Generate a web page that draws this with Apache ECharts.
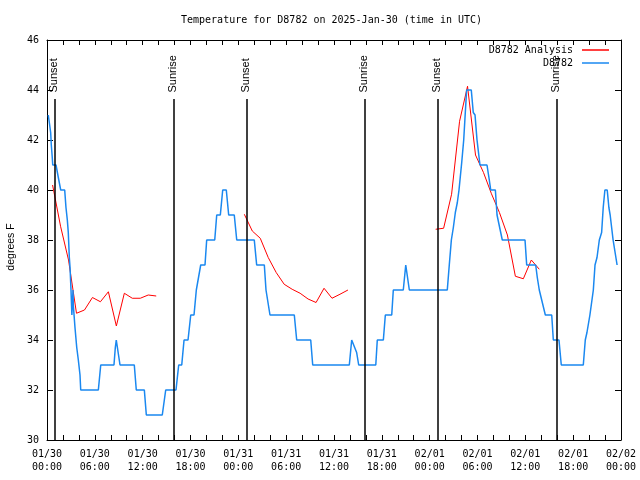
<!DOCTYPE html>
<html><head><meta charset="utf-8">
<script src="https://cdn.jsdelivr.net/npm/echarts@6/dist/echarts.min.js"></script>
<style>html,body{margin:0;padding:0;background:#fff}#c{width:640px;height:480px}</style>
</head><body><div id="c"></div>
<script>
// hours since 2025-01-30 00:00 UTC
const tickLabels = ["01/30\n00:00","01/30\n06:00","01/30\n12:00","01/30\n18:00","01/31\n00:00","01/31\n06:00","01/31\n12:00","01/31\n18:00","02/01\n00:00","02/01\n06:00","02/01\n12:00","02/01\n18:00","02/02\n00:00"];
const sunTimes = [0.92, 15.84, 25.0, 39.8, 48.96, 63.9];
const sunNames = ["Sunset","Sunrise","Sunset","Sunrise","Sunset","Sunrise"];

const obsHours = [0.16,0.29,0.46,0.54,0.66,0.72,1.13,1.42,1.72,2.22,2.38,2.55,2.67,2.80,2.89,3.01,3.12,3.26,3.30,3.51,3.73,3.93,4.14,4.23,6.44,6.74,8.40,8.57,8.69,8.94,9.16,10.95,11.20,12.21,12.46,14.46,14.89,16.18,16.52,16.90,17.19,17.69,18.03,18.44,18.73,18.94,19.28,19.82,20.03,21.04,21.29,21.74,22.04,22.49,22.79,23.49,23.80,26.00,26.30,27.26,27.47,27.72,27.97,31.02,31.32,33.08,33.33,37.92,38.22,38.42,38.84,39.10,41.24,41.43,42.19,42.44,43.24,43.44,44.69,45.00,45.20,45.45,50.21,50.46,50.72,50.97,51.22,51.47,51.68,52.02,52.27,52.47,52.64,53.22,53.47,53.69,53.94,54.31,55.19,55.48,55.66,56.24,56.45,56.66,57.11,59.96,60.17,61.30,61.50,61.75,62.00,62.51,63.31,63.51,64.22,64.51,67.27,67.52,67.73,68.10,68.53,68.74,68.99,69.28,69.57,69.77,69.98,70.27,70.48,70.64,71.01,71.22,71.51];
const obsValues = [43,42.7,42.3,41.8,41.3,41,41,40.5,40,40,39.3,38.8,38.3,37.3,36.9,36,35,36,35.4,34.5,33.7,33.2,32.6,32,32,33,33,33.7,34,34,33,33,32,32,31,31,32,32,33,33,34,34,35,35,36,36,37,37,38,38,39,39,40,40,39,39,38,38,37,37,36,36,35,35,34,34,33,33,34,34,33.5,33,33,34,34,35,35,36,36,37,37,36,36,37,38,38.5,39.1,39.5,40,41.1,42,43.1,44,44,43.1,43,42,41,41,40.4,40,40,39,39,38,38,37,37,36.5,36,36,35,35,34,34,33,33,34,34.3,35,36,37,37.3,38,38.3,39.3,40,40,39.3,39,38,38,37];

const anaHours1 = [0.7,1.7,2.7,3.7,4.7,5.7,6.7,7.7,8.7,9.7,10.7,11.7,12.7,13.7];
const anaValues1 = [40.2,38.55,37.2,35.07,35.2,35.7,35.53,35.93,34.56,35.87,35.67,35.67,35.8,35.76];
const anaHours2 = [24.75,25.75,26.75,27.75,28.75,29.75,30.75,31.75,32.75,33.75,34.75,35.75,36.75,37.75];
const anaValues2 = [39.03,38.36,38.07,37.3,36.7,36.23,36.03,35.87,35.64,35.5,36.07,35.67,35.83,36.0];
const anaHours3 = [48.75,49.75,50.75,51.75,52.75,53.75,54.75,55.75,56.75,57.75,58.75,59.75,60.75,61.75];
const anaValues3 = [38.43,38.47,39.83,42.75,44.15,41.4,40.7,39.85,39.1,38.2,36.55,36.45,37.2,36.83];

const MONO = "'DejaVu Sans Mono', monospace";
const SANS = "'Liberation Sans', Arial, sans-serif";

const obsData = obsHours.map((h,i)=>[h, obsValues[i]]);
const anaData = [];
[[anaHours1,anaValues1],[anaHours2,anaValues2],[anaHours3,anaValues3]].forEach(([hs,vs],k)=>{
  if (k>0) anaData.push([hs[0]-0.5, null]);
  hs.forEach((h,i)=>anaData.push([h, vs[i]]));
});

const chart = echarts.init(document.getElementById('c'), null, {renderer:'canvas'});
const xCommon = {type:'value', min:0, max:72, interval:6,
  axisLine:{show:true, onZero:false, lineStyle:{color:'#000', width:1}},
  axisTick:{show:true, inside:true, length:5, lineStyle:{color:'#000'}},
  minorTick:{show:true, splitNumber:3, length:5, lineStyle:{color:'#000'}},
  splitLine:{show:false}, minorSplitLine:{show:false}};
const yCommon = {type:'value', min:30, max:46, interval:2,
  axisLine:{show:true, onZero:false, lineStyle:{color:'#000', width:1}},
  axisTick:{show:true, inside:true, length:6, lineStyle:{color:'#000'}},
  splitLine:{show:false}};

chart.setOption({
  animation:false,
  backgroundColor:'#fff',
  title:{text:'Temperature for D8782 on 2025-Jan-30 (time in UTC)', left:181, top:15, padding:0,
    textStyle:{fontFamily:MONO, fontSize:10, fontWeight:'normal', color:'#000'}},
  grid:{left:47, right:19, top:40, bottom:40, containLabel:false},
  legend:[
    {data:['D8782 Analysis'], right:31, top:45, padding:0, align:'right', icon:'rect', itemWidth:27, itemHeight:1.5,
     textStyle:{fontFamily:MONO, fontSize:10, color:'#000', padding:[0,4,0,0]}},
    {data:['D8782'], right:31, top:58, padding:0, align:'right', icon:'rect', itemWidth:27, itemHeight:1.5,
     textStyle:{fontFamily:MONO, fontSize:10, color:'#000', padding:[0,4,0,0]}}
  ],
  xAxis:[
    Object.assign({}, xCommon, {position:'bottom',
      axisLabel:{show:true, margin:8, color:'#000', fontFamily:MONO, fontSize:10, lineHeight:13,
        formatter:(v)=>tickLabels[Math.round(v/6)]}}),
    Object.assign({}, xCommon, {position:'top', axisLabel:{show:false}})
  ],
  yAxis:[
    Object.assign({}, yCommon, {position:'left',
      axisLabel:{show:true, margin:8, color:'#000', fontFamily:MONO, fontSize:10}}),
    Object.assign({}, yCommon, {position:'right', axisLabel:{show:false}})
  ],
  graphic:[{type:'text', x:11, y:247, rotation:Math.PI/2,
    style:{text:'degrees F', fill:'#000', font:"10.5px 'Liberation Sans', Arial, sans-serif", align:'center', verticalAlign:'middle'}}],
  series:[
    {name:'D8782 Analysis', type:'line', data:anaData, showSymbol:false, symbol:'none', connectNulls:false,
     color:'#ff0000', lineStyle:{color:'#ff0000', width:1}, z:3},
    {name:'D8782', type:'line', data:obsData, showSymbol:false, symbol:'none',
     color:'#1a88f0', lineStyle:{color:'#1a88f0', width:1.5}, z:4,
     markLine:{silent:true, symbol:'none', animation:false, label:{show:false},
       lineStyle:{color:'#000', width:1.5, type:'solid'},
       data: sunTimes.map(t=>[{coord:[t,30]},{coord:[t,43.64]}])},
     markPoint:{silent:true, symbol:'circle', symbolSize:0, animation:false,
       label:{show:true, position:'inside', rotate:90, align:'left', verticalAlign:'middle', offset:[1,0],
         color:'#000', fontFamily:SANS, fontSize:11},
       data: sunTimes.map((t,i)=>({coord:[t,43.86], value:sunNames[i], label:{formatter:sunNames[i]}}))}
    }
  ]
});
</script>
</body></html>
